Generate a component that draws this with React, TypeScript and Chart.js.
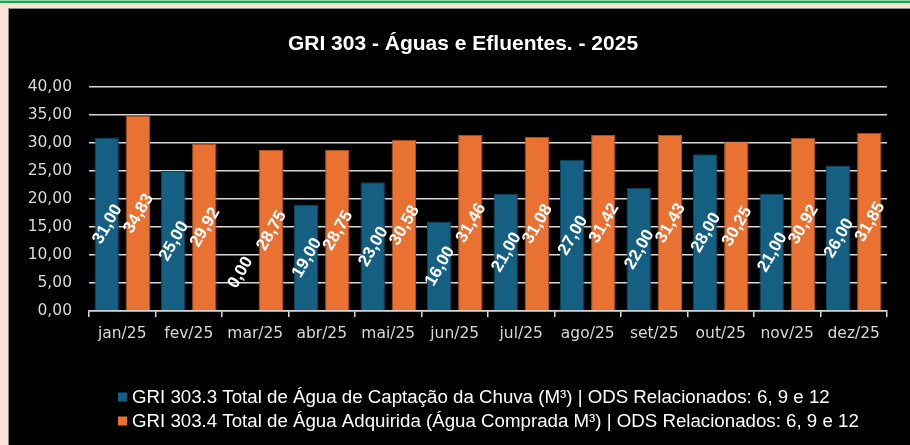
import React, { useEffect, useRef } from "react";
import { Chart, registerables } from "chart.js";

Chart.register(...registerables);

const months = ["jan/25", "fev/25", "mar/25", "abr/25", "mai/25", "jun/25", "jul/25", "ago/25", "set/25", "out/25", "nov/25", "dez/25"];
const chuva = [31, 25, 0, 19, 23, 16, 21, 27, 22, 28, 21, 26];
const adquirida = [34.83, 29.92, 28.75, 28.75, 30.58, 31.46, 31.08, 31.42, 31.43, 30.25, 30.92, 31.85];
const seriesNames = [
  "GRI 303.3 Total de Água de Captação da Chuva (M³) | ODS Relacionados: 6, 9 e 12",
  "GRI 303.4 Total de Água Adquirida (Água Comprada M³) | ODS Relacionados: 6, 9 e 12",
];
const seriesColors = ["#156082", "#E97132"];
const seriesBorders = ["#0d3f57", "#a9501f"];
const titleText = "GRI 303 - Águas e Efluentes. - 2025";
const yMin = 0;
const yMax = 40;
const yStep = 5;

const ARIAL = "'Liberation Sans', Arial, sans-serif";
const AXISFONT = "'DejaVu Sans', sans-serif";

const fmt = (v: number) => v.toFixed(2).replace(".", ",");

const dataLabelPlugin = {
  id: "dataLabels",
  afterDatasetsDraw(chart: any) {
    const ctx = chart.ctx;
    ctx.save();
    ctx.font = `bold 17px ${ARIAL}`;
    ctx.fillStyle = "#ffffff";
    ctx.textAlign = "center";
    ctx.textBaseline = "middle";
    chart.data.datasets.forEach((ds: any, di: number) => {
      const meta = chart.getDatasetMeta(di);
      meta.data.forEach((bar: any, i: number) => {
        const v = ds.data[i];
        let y = (bar.y + bar.base) / 2;
        if (v === 0) y = bar.base - 39;
        ctx.save();
        ctx.translate(bar.x, y);
        ctx.rotate(-Math.PI / 3);
        ctx.fillText(fmt(v), 0, 1);
        ctx.restore();
      });
    });
    ctx.restore();
  },
};

const titleLegendPlugin = {
  id: "titleLegend",
  afterDraw(chart: any) {
    const ctx = chart.ctx;
    ctx.save();
    ctx.font = `bold 21px ${ARIAL}`;
    ctx.fillStyle = "#ffffff";
    ctx.textAlign = "center";
    ctx.textBaseline = "middle";
    ctx.fillText(titleText, 454, 35);
    ctx.font = `18.7px ${ARIAL}`;
    ctx.textAlign = "left";
    chart.data.datasets.forEach((ds: any, di: number) => {
      const cy = 388 + di * 24;
      ctx.fillStyle = ds.backgroundColor;
      ctx.fillRect(109, cy - 4.5, 9, 9);
      ctx.fillStyle = "#ffffff";
      ctx.fillText(ds.label, 123, cy + 1);
    });
    ctx.restore();
  },
};

export default function App() {
  const ref = useRef<HTMLCanvasElement | null>(null);

  useEffect(() => {
    if (!ref.current) return;
    const chart = new Chart(ref.current, {
      type: "bar",
      data: {
        labels: months,
        datasets: [
          { label: seriesNames[0], data: chuva, backgroundColor: seriesColors[0], borderColor: seriesBorders[0], borderWidth: 1, categoryPercentage: 0.936, barPercentage: 0.785 },
          { label: seriesNames[1], data: adquirida, backgroundColor: seriesColors[1], borderColor: seriesBorders[1], borderWidth: 1, categoryPercentage: 0.936, barPercentage: 0.785 },
        ],
      },
      options: {
        animation: false,
        responsive: false,
        devicePixelRatio: 1,
        layout: { padding: { left: 0, right: 23, top: 78, bottom: 94 } },
        plugins: {
          legend: { display: false },
          tooltip: { enabled: false },
          title: { display: false },
        },
        scales: {
          x: {
            grid: {
              display: true,
              drawOnChartArea: false,
              drawTicks: true,
              tickLength: 6,
              color: "#d9d9d9",
              lineWidth: 1.5,
              offset: true,
            },
            border: { display: true, color: "#d9d9d9", width: 1.5 },
            ticks: { color: "#d9d9d9", font: { family: AXISFONT, size: 15.5 }, padding: 8, maxRotation: 0, autoSkip: false },
            afterFit(scale: any) {
              scale.height = 40;
            },
          },
          y: {
            min: yMin,
            max: yMax,
            ticks: {
              stepSize: yStep,
              color: "#d9d9d9",
              font: { family: AXISFONT, size: 15.5 },
              padding: 17,
              callback: (v: any) => fmt(Number(v)),
            },
            grid: { color: "#d9d9d9", lineWidth: 1.5, drawTicks: false },
            border: { display: false },
            afterFit(scale: any) {
              scale.width = 80;
            },
          },
        },
      },
      plugins: [dataLabelPlugin, titleLegendPlugin],
    });
    return () => chart.destroy();
  }, []);

  return (
    <div style={{ position: "fixed", left: 0, top: 0, width: 910, height: 445, background: "#FBE3D6", overflow: "hidden" }}>
      <div style={{ position: "absolute", left: 0, top: 0, width: 910, height: 1, background: "#8fd9a8" }} />
      <div style={{ position: "absolute", left: 0, top: 1, width: 910, height: 2, background: "#13b04c" }} />
      <div style={{ position: "absolute", left: 8, top: 8, width: 902, height: 437, background: "#000000", borderLeft: "1px solid #8c8c8c", borderTop: "1px solid #8c8c8c", boxSizing: "border-box" }}>
        <canvas ref={ref} width={901} height={436} style={{ display: "block", width: 901, height: 436 }} />
      </div>
    </div>
  );
}
